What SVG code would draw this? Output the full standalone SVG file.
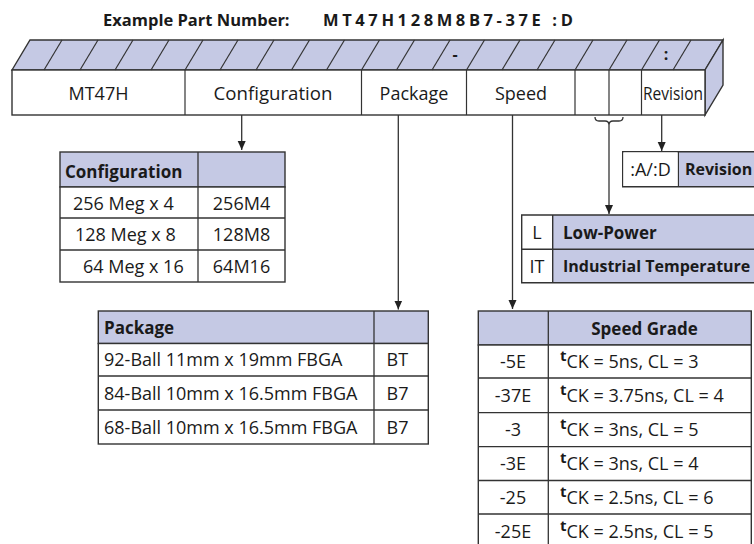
<svg xmlns="http://www.w3.org/2000/svg" width="754" height="544" viewBox="0 0 754 544">
<defs>
<style>
text{font-family:"Open Sans","Noto Sans","DejaVu Sans",sans-serif;font-size:18px;fill:#1a1a1a}
.b{font-weight:bold;font-size:17px}
.m{text-anchor:middle}
.ln{stroke:#333;stroke-width:1.3;fill:none}
.bx{stroke:#333;stroke-width:1.4;fill:#fff}
.bl{stroke:#333;stroke-width:1.4;fill:#c5c9e4}
.bf{fill:#c5c9e4}
.sl{stroke:#333;stroke-width:1.2}
.t{font-weight:bold;font-size:15px}
</style>
<marker id="ah" markerWidth="10" markerHeight="10" refX="9" refY="5" orient="auto" markerUnits="userSpaceOnUse">
<path d="M0,1 L9,5 L0,9 Z" fill="#222"/>
</marker>
</defs>
<rect width="754" height="544" fill="#fff"/>
<g id="title">
<text class="b" x="103" y="26" style="font-size:16.5px">Example Part Number:</text>
<text class="b" x="323" y="26" style="font-size:16.5px" letter-spacing="3.6">MT47H128M8B7-37E :D</text>
</g>
<g id="partbox">
<polygon class="bl" points="12,70 30,40 723,40 705,70"/>
<polygon class="bl" points="705,70 723,40 723,85 705,115"/>
<rect class="bx" x="12" y="70" width="693" height="45"/>
<g class="sl">
<line x1="44" y1="70" x2="62" y2="40"/>
<line x1="80" y1="70" x2="98" y2="40"/>
<line x1="115" y1="70" x2="133" y2="40"/>
<line x1="151" y1="70" x2="169" y2="40"/>
<line x1="185" y1="70" x2="203" y2="40"/>
<line x1="220" y1="70" x2="238" y2="40"/>
<line x1="256" y1="70" x2="274" y2="40"/>
<line x1="291.5" y1="70" x2="309.5" y2="40"/>
<line x1="326.5" y1="70" x2="344.5" y2="40"/>
<line x1="361.5" y1="70" x2="379.5" y2="40"/>
<line x1="396.5" y1="70" x2="414.5" y2="40"/>
<line x1="432" y1="70" x2="450" y2="40"/>
<line x1="466.5" y1="70" x2="484.5" y2="40"/>
<line x1="502" y1="70" x2="520" y2="40"/>
<line x1="537" y1="70" x2="555" y2="40"/>
<line x1="575" y1="70" x2="593" y2="40"/>
<line x1="609" y1="70" x2="627" y2="40"/>
<line x1="641.5" y1="70" x2="659.5" y2="40"/>
<line x1="673" y1="70" x2="691" y2="40"/>
<line x1="185" y1="70" x2="185" y2="115"/>
<line x1="361.5" y1="70" x2="361.5" y2="115"/>
<line x1="466.5" y1="70" x2="466.5" y2="115"/>
<line x1="575" y1="70" x2="575" y2="115"/>
<line x1="609" y1="70" x2="609" y2="115"/>
<line x1="641.5" y1="70" x2="641.5" y2="115"/>
</g>
<text class="b m" x="455" y="60" style="font-size:16px">-</text>
<text class="b m" x="666" y="60" style="font-size:16px">:</text>
<text class="m" x="98.5" y="100">MT47H</text>
<text class="m" x="273" y="100" textLength="119" lengthAdjust="spacingAndGlyphs">Configuration</text>
<text class="m" x="414" y="100">Package</text>
<text class="m" x="521" y="100">Speed</text>
<text x="643" y="100" font-size="16" textLength="60" lengthAdjust="spacingAndGlyphs">Revision</text>
</g>
<g id="connectors">
<line class="ln" x1="241.7" y1="115" x2="241.7" y2="150" marker-end="url(#ah)"/>
<line class="ln" x1="398.3" y1="115" x2="398.3" y2="309.5" marker-end="url(#ah)"/>
<line class="ln" x1="512.5" y1="115" x2="512.5" y2="309" marker-end="url(#ah)"/>
<path class="ln" d="M595,117 Q595,121 599,121 L605,121 Q609,121 609,125 Q609,121 613,121 L619,121 Q623,121 623,117"/>
<line class="ln" x1="609" y1="125" x2="609" y2="214" marker-end="url(#ah)"/>
<line class="ln" x1="661.7" y1="115" x2="661.7" y2="151" marker-end="url(#ah)"/>
</g>
<g id="config-table">
<rect class="bl" x="60" y="152" width="225" height="35"/>
<rect class="bx" x="60" y="187" width="225" height="95"/>
<line class="ln" x1="198" y1="152" x2="198" y2="282"/>
<line class="ln" x1="60" y1="218" x2="285" y2="218"/>
<line class="ln" x1="60" y1="250" x2="285" y2="250"/>
<text class="b" x="65" y="178">Configuration</text>
<text x="73" y="210">256 Meg x 4</text>
<text x="75" y="241">128 Meg x 8</text>
<text x="83" y="273">64 Meg x 16</text>
<text class="m" x="241.5" y="210">256M4</text>
<text class="m" x="241.5" y="241">128M8</text>
<text class="m" x="241.5" y="273">64M16</text>
</g>
<g id="revision-table">
<rect class="bf" x="678.3" y="151.7" width="75.7" height="35"/>
<path class="ln" d="M754,151.7 H622.7 V186.7 H754 M678.3,151.7 V186.7" style="stroke-width:1.4"/>
<rect x="623.4" y="152.4" width="54.2" height="33.6" fill="#fff"/>
<text class="m" x="650.5" y="175.5">:A/:D</text>
<text class="b" x="685" y="175" style="font-size:16px">Revision</text>
</g>
<g id="power-table">
<rect class="bf" x="552.7" y="215" width="201.3" height="67.7"/>
<rect x="522.4" y="215.7" width="29.6" height="66.3" fill="#fff"/>
<path class="ln" d="M754,215 H521.7 V282.7 H754 M552.7,215 V282.7 M521.7,249.3 H754" style="stroke-width:1.4"/>
<text class="m" x="537" y="238.5">L</text>
<text class="b" x="563" y="238.5">Low-Power</text>
<text class="m" x="537" y="272.5">IT</text>
<text class="b" x="563" y="272" style="font-size:16px">Industrial Temperature</text>
</g>
<g id="package-table">
<rect class="bl" x="98.3" y="311" width="330" height="32.5"/>
<rect class="bx" x="98.3" y="343.5" width="330" height="100.5"/>
<line class="ln" x1="374" y1="311" x2="374" y2="444"/>
<line class="ln" x1="98.3" y1="376" x2="428.3" y2="376"/>
<line class="ln" x1="98.3" y1="410" x2="428.3" y2="410"/>
<text class="b" x="104" y="333.5">Package</text>
<text x="104" y="366">92-Ball 11mm x 19mm FBGA</text>
<text x="104" y="399.5">84-Ball 10mm x 16.5mm FBGA</text>
<text x="104" y="433.5">68-Ball 10mm x 16.5mm FBGA</text>
<text x="386.5" y="366">BT</text>
<text x="386.5" y="399.5">B7</text>
<text x="386.5" y="433.5">B7</text>
</g>
<g id="speed-table">
<rect class="bl" x="478.3" y="311" width="273" height="34"/>
<rect class="bx" x="478.3" y="345" width="273" height="203"/>
<line class="ln" x1="548.3" y1="311" x2="548.3" y2="548"/>
<line class="ln" x1="478.3" y1="378" x2="751.3" y2="378"/>
<line class="ln" x1="478.3" y1="412.7" x2="751.3" y2="412.7"/>
<line class="ln" x1="478.3" y1="446.7" x2="751.3" y2="446.7"/>
<line class="ln" x1="478.3" y1="480.5" x2="751.3" y2="480.5"/>
<line class="ln" x1="478.3" y1="514" x2="751.3" y2="514"/>
<text class="b m" x="644.5" y="334.5">Speed Grade</text>
<text class="m" x="513" y="368">-5E</text>
<text class="m" x="513" y="401.7">-37E</text>
<text class="m" x="513" y="436">-3</text>
<text class="m" x="513" y="470">-3E</text>
<text class="m" x="513" y="503.7">-25</text>
<text class="m" x="513" y="537.5">-25E</text>
<text x="560" y="368"><tspan class="t" dy="-7">t</tspan><tspan dy="7">CK = 5ns, CL = 3</tspan></text>
<text x="560" y="401.7"><tspan class="t" dy="-7">t</tspan><tspan dy="7">CK = 3.75ns, CL = 4</tspan></text>
<text x="560" y="436"><tspan class="t" dy="-7">t</tspan><tspan dy="7">CK = 3ns, CL = 5</tspan></text>
<text x="560" y="470"><tspan class="t" dy="-7">t</tspan><tspan dy="7">CK = 3ns, CL = 4</tspan></text>
<text x="560" y="503.7"><tspan class="t" dy="-7">t</tspan><tspan dy="7">CK = 2.5ns, CL = 6</tspan></text>
<text x="560" y="537.5"><tspan class="t" dy="-7">t</tspan><tspan dy="7">CK = 2.5ns, CL = 5</tspan></text>
</g>
</svg>
